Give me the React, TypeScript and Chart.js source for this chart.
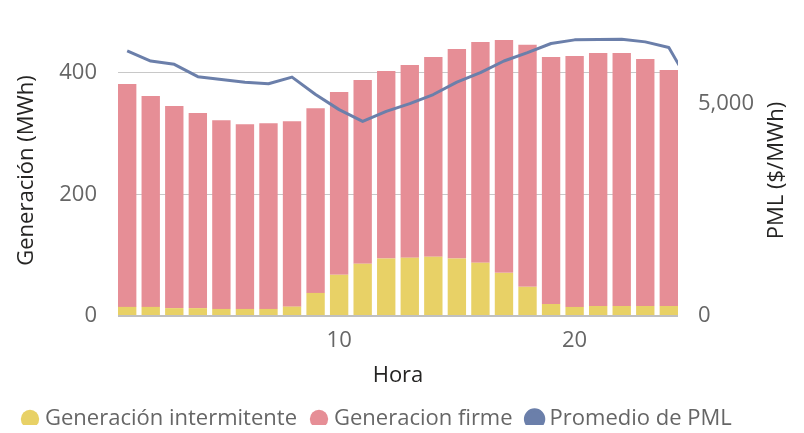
import React, { useEffect, useRef } from "react";
import { Chart, registerables } from "chart.js";

Chart.register(...registerables);

const hours = [1, 2, 3, 4, 5, 6, 7, 8, 9, 10, 11, 12, 13, 14, 15, 16, 17, 18, 19, 20, 21, 22, 23, 24];
const intermitente = [15, 15, 13, 13, 11.6, 11.6, 11.6, 15.4, 38, 67.8, 86, 94.7, 95.9, 97.5, 94.7, 87.6, 71, 48, 19.8, 14.9, 16.5, 16.5, 16.5, 16.5];
const firme = [367, 347, 332.5, 321, 310.7, 304, 305.8, 305.3, 304, 300.8, 302.4, 308.6, 317.3, 329, 345, 363.6, 383.5, 398.3, 406.6, 413.2, 416.5, 416.5, 406.6, 388.5];
const pmlHours = [1, 2, 3, 4, 5, 6, 7, 8, 9, 10, 11, 12, 13, 14, 15, 16, 17, 18, 19, 20, 21, 22, 23, 24, 25];
const pml = [6239, 6002, 5924, 5633, 5569, 5505, 5467, 5623, 5213, 4858, 4581, 4818, 5000, 5213, 5505, 5728, 6002, 6201, 6415, 6500, 6509, 6517, 6453, 6320, 5363];
const xTicks = [10, 20];
const leftTicks = [0, 200, 400];
const rightTicks = [0, 5000];
const rightTitle = "PML ($/MWh)";

const FONT = "'Open Sans', 'Noto Sans', sans-serif";
const FS = 22;
const tickColor = "#666666";
const titleColor = "#252423";

const rightTitlePlugin = {
  id: "rightTitle",
  afterDraw(chart: any) {
    const s = chart.scales.y1;
    const ca = chart.chartArea;
    const ctx = chart.ctx;
    ctx.save();
    ctx.translate(s.right - 19, (ca.top + ca.bottom) / 2);
    ctx.rotate(-Math.PI / 2);
    ctx.textAlign = "center";
    ctx.textBaseline = "middle";
    ctx.fillStyle = titleColor;
    ctx.font = `${FS}px ${FONT}`;
    ctx.fillText(rightTitle, 0, 0);
    ctx.restore();
  },
};

const noPad = (s: any) => {
  s.paddingTop = 0;
  s.paddingBottom = 0;
  s.paddingLeft = 0;
  s.paddingRight = 0;
};

export default function App() {
  const ref = useRef<HTMLCanvasElement>(null);
  useEffect(() => {
    if (!ref.current) return;
    const chart = new Chart(ref.current, {
      type: "bar",
      data: {
        datasets: [
          {
            type: "bar",
            label: "Generación intermitente",
            data: hours.map((h, i) => ({ x: h, y: intermitente[i] })),
            backgroundColor: "#E8D166",
            yAxisID: "y",
            stack: "g",
            order: 1,
            barPercentage: 0.78,
            categoryPercentage: 1,
          },
          {
            type: "bar",
            label: "Generacion firme",
            data: hours.map((h, i) => ({ x: h, y: firme[i] })),
            backgroundColor: "#E68E96",
            yAxisID: "y",
            stack: "g",
            order: 1,
            barPercentage: 0.78,
            categoryPercentage: 1,
          },
          {
            type: "line",
            label: "Promedio de PML",
            data: pmlHours.map((h, i) => ({ x: h, y: pml[i] })),
            borderColor: "#6B7FAA",
            backgroundColor: "#6B7FAA",
            borderWidth: 3,
            pointRadius: 0,
            tension: 0,
            yAxisID: "y1",
            order: 0,
            borderJoinStyle: "round",
          } as any,
        ],
      },
      options: {
        animation: false,
        responsive: true,
        maintainAspectRatio: false,
        layout: { padding: { top: 17, bottom: -7, left: 0, right: 0 } },
        plugins: {
          tooltip: { enabled: false },
          legend: {
            position: "bottom",
            align: "start",
            labels: {
              usePointStyle: true,
              pointStyle: "circle",
              boxWidth: 8,
              boxHeight: 13,
              padding: 18,
              color: tickColor,
              font: { family: FONT, size: FS },
              sort: (a: any, b: any) => a.datasetIndex - b.datasetIndex,
            },
          },
        },
        scales: {
          x: {
            type: "linear",
            min: 0.61,
            max: 24.39,
            offset: false,
            grid: { display: false, drawTicks: false },
            border: { display: false },
            afterBuildTicks: (s: any) => {
              s.ticks = xTicks.map((v) => ({ value: v }));
            },
            afterFit: (s: any) => {
              s.height = 74;
              noPad(s);
            },
            ticks: {
              color: tickColor,
              font: { family: FONT, size: FS },
              padding: 12,
              maxRotation: 0,
            },
            title: {
              display: true,
              text: "Hora",
              color: titleColor,
              font: { family: FONT, size: FS },
              padding: { top: 0, bottom: 1 },
            },
          },
          y: {
            type: "linear",
            position: "left",
            stacked: true,
            min: 0,
            max: 479,
            afterBuildTicks: (s: any) => {
              s.ticks = leftTicks.map((v) => ({ value: v }));
            },
            afterFit: (s: any) => {
              s.width = 110;
              noPad(s);
            },
            grid: {
              color: (c: any) => (c.tick && c.tick.value === 0 ? "#C0C0C0" : "#C8C8C8"),
              lineWidth: (c: any) => (c.tick && c.tick.value === 0 ? 2 : 1),
              drawTicks: false,
            },
            border: { display: false },
            ticks: {
              color: tickColor,
              font: { family: FONT, size: FS },
              padding: 21,
            },
            title: {
              display: true,
              text: "Generación (MWh)",
              color: titleColor,
              font: { family: FONT, size: FS },
              padding: { top: 6, bottom: 0 },
            },
          },
          y1: {
            type: "linear",
            position: "right",
            min: 0,
            max: 6850,
            afterBuildTicks: (s: any) => {
              s.ticks = rightTicks.map((v) => ({ value: v }));
            },
            afterFit: (s: any) => {
              s.width = 118;
              noPad(s);
            },
            grid: { display: false, drawTicks: false },
            border: { display: false },
            ticks: {
              color: tickColor,
              font: { family: FONT, size: FS },
              padding: 20,
              callback: (v: any) => Number(v).toLocaleString("en-US"),
            },
            title: { display: false },
          },
        },
      },
      plugins: [rightTitlePlugin],
    });
    return () => chart.destroy();
  }, []);
  return (
    <div style={{ position: "relative", width: 788, height: 425, marginBottom: -8 }}>
      <canvas ref={ref} />
    </div>
  );
}
